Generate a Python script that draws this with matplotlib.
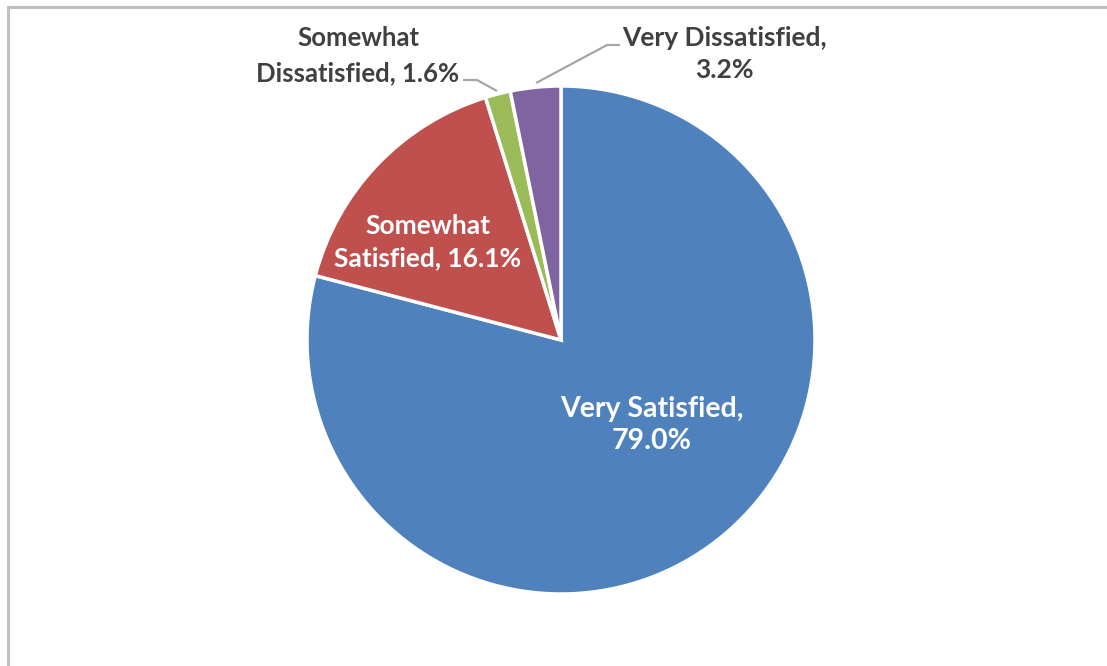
import matplotlib
matplotlib.use("Agg")
import matplotlib.pyplot as plt
from matplotlib.patches import Rectangle

# Survey response shares (percent)
categories = ["Very Satisfied", "Somewhat Satisfied", "Somewhat Dissatisfied", "Very Dissatisfied"]
shares = [79.0, 16.1, 1.6, 3.2]
colors = ["#4F81BD", "#C0504D", "#9BBB59", "#8064A2"]

W, H = 1107, 666
fig = plt.figure(figsize=(W / 100, H / 100), dpi=100)
ax = fig.add_axes([0, 0, 1, 1])

# chart-area border (open at right/bottom edge of the image)
ax.add_patch(Rectangle((8, -20), W + 50, H - 7 + 20, fill=False,
                       edgecolor="#BFBFBF", linewidth=2.2))

cx, cy, r = 561, H - 340, 254
wedges, _ = ax.pie(shares, colors=colors, startangle=90, counterclock=False,
                   center=(cx, cy), radius=r, frame=True,
                   wedgeprops=dict(edgecolor="white", linewidth=2.5))
ax.set_xlim(0, W)
ax.set_ylim(0, H)
ax.set_aspect("equal")
ax.axis("off")

fam = ["Lato", "DejaVu Sans"]


def label(x, y, name, val, color, size, ls):
    # split "Somewhat X" style names over two lines like the data labels
    words = name.split(" ")
    if words[0] == "Somewhat":
        txt = f"Somewhat\n{' '.join(words[1:])}, {val:.1f}%"
    else:
        txt = f"{name},\n{val:.1f}%"
    ax.text(x, y, txt, color=color, ha="center", va="center", family=fam,
            fontweight="bold", fontsize=size, linespacing=ls)


label(652, H - 425, categories[0], shares[0], "white", 20.5, 1.33)
label(428, H - 242, categories[1], shares[1], "white", 19, 1.42)
label(358, H - 56, categories[2], shares[2], "#404040", 18.5, 1.55)
label(724, H - 54, categories[3], shares[3], "#404040", 19, 1.42)

# leader lines for the small outside labels
ax.plot([463, 477, 497], [H - 80, H - 80, H - 91], color="#A6A6A6", lw=1.6,
        solid_capstyle="butt")
ax.plot([620, 607, 536], [H - 45, H - 45, H - 83], color="#A6A6A6", lw=1.6,
        solid_capstyle="butt")

fig.savefig("out.png", dpi=100, facecolor="white")
